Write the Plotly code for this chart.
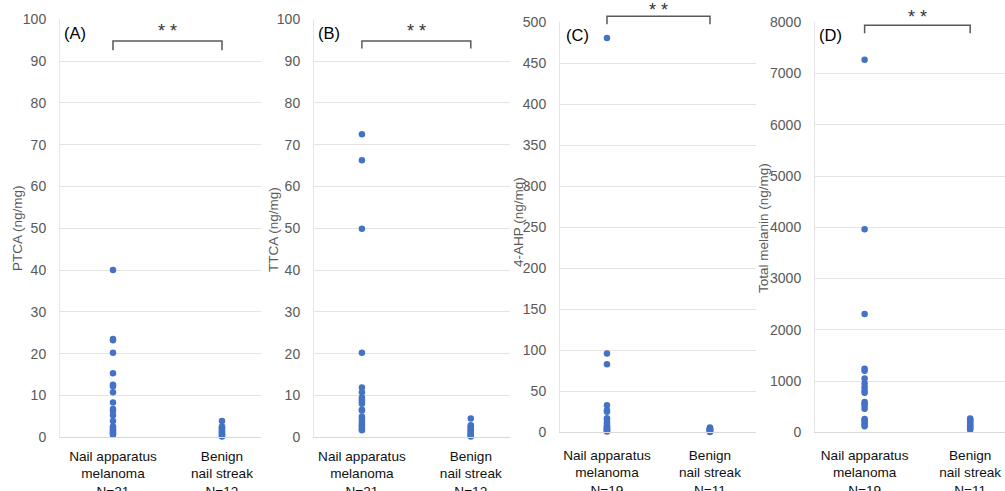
import plotly.graph_objects as go

W, H = 1005, 491

groups_21_12 = ["Nail apparatus<br>melanoma<br>N=21", "Benign<br>nail streak<br>N=12"]
groups_19_11 = ["Nail apparatus<br>melanoma<br>N=19", "Benign<br>nail streak<br>N=11"]

ptca_nam = [40, 23.5, 23.2, 20.2, 15.3, 12.6, 12.2, 10.8, 8.3, 6.8, 6.3, 5.3, 3.9,
            2.6, 2.3, 2.0, 1.7, 1.4, 1.1, 0.8, 0.6]
ptca_ben = [3.9, 2.6, 2.3, 2.1, 1.8, 1.5, 1.3, 1.0, 0.8, 0.6, 0.4, 0.2]

ttca_nam = [72.5, 66.3, 49.9, 20.2, 11.9, 10.8, 9.5, 9.0, 8.5, 8.0, 6.6, 6.4, 5.0,
            4.6, 4.0, 3.5, 3.0, 2.7, 2.3, 2.0, 1.7]
ttca_ben = [4.5, 2.9, 2.6, 2.2, 1.9, 1.6, 1.3, 1.1, 0.8, 0.6, 0.4, 0.2]

ahp_nam = [481, 96, 83, 33, 27, 25, 17, 15, 12, 10, 8, 7, 6, 5, 4, 3, 2.5, 2, 1]
ahp_ben = [6, 5, 4.5, 4, 3.5, 3, 2.5, 2, 1.5, 1, 0.5]

mel_nam = [7270, 3960, 2310, 1240, 1200, 1050, 950, 880, 810, 770, 590, 560, 520,
           460, 260, 230, 190, 150, 120]
mel_ben = [270, 250, 230, 200, 180, 150, 130, 110, 90, 70, 50]

y_titles = ["PTCA (ng/mg)", "TTCA (ng/mg)", "4-AHP (ng/mg)", "Total melanin (ng/mg)"]
panel_labels = ["(A)", "(B)", "(C)", "(D)"]
y_max = [100, 100, 500, 8000]
y_dtick = [10, 10, 50, 1000]

FONT = "Arial, Liberation Sans, sans-serif"
BLUE = "#4472C4"
GRAY = "#595959"
GRID = "#e4e4e4"

# layout geometry (pixels)
panels = [
    dict(cats=groups_21_12, a=ptca_nam, b=ptca_ben, x0=60, x1=261, xr=[-0.486, 1.358], top=19.3, bot=437.3,
         title_x=17, title_y=228, lab_x=62, lab_y=33, xstand=6,
         br=(0.948, 0.926, 0.972)),
    dict(cats=groups_21_12, a=ttca_nam, b=ttca_ben, x0=314, x1=510, xr=[-0.44, 1.36], top=19.3, bot=437.3,
         title_x=273, title_y=230, lab_x=316, lab_y=33, xstand=6,
         br=(0.948, 0.930, 0.972)),
    dict(cats=groups_19_11, a=ahp_nam, b=ahp_ben, x0=560, x1=756, xr=[-0.456, 1.447], top=22.3, bot=432.3,
         title_x=518, title_y=222, lab_x=564, lab_y=35, xstand=10,
         br=(1.0146, 0.995, 1.03)),
    dict(cats=groups_19_11, a=mel_nam, b=mel_ben, x0=815, x1=1005, xr=[-0.47, 1.33], top=22.3, bot=432.3,
         title_x=763, title_y=228, lab_x=817, lab_y=35, xstand=10,
         br=(0.9927, 0.973, 1.012)),
]

fig = go.Figure()
layout = dict(
    template="none",
    width=W, height=H, margin=dict(l=0, r=0, t=0, b=0, autoexpand=False),
    paper_bgcolor="white", plot_bgcolor="white", showlegend=False,
    font=dict(family=FONT, color=GRAY, size=14),
)
shapes = []
annotations = []

for i, p in enumerate(panels):
    n = "" if i == 0 else str(i + 1)
    xa, ya = "x" + n, "y" + n
    fig.add_trace(go.Scatter(
        x=[p["cats"][0]] * len(p["a"]) + [p["cats"][1]] * len(p["b"]),
        y=p["a"] + p["b"],
        mode="markers", marker=dict(size=6.5, color=BLUE, line=dict(width=0)),
        cliponaxis=False, xaxis=xa, yaxis=ya, hoverinfo="y",
    ))
    layout["xaxis" + n] = dict(
        domain=[p["x0"] / W, min(p["x1"] / W, 1)], anchor=ya, type="category",
        categoryorder="array", categoryarray=p["cats"], range=p["xr"],
        showgrid=False, showline=True, linecolor="#d9d9d9", linewidth=1,
        ticks="", ticklabelstandoff=p["xstand"],
        tickfont=dict(size=13.6, color="#111111"), zeroline=False,
        automargin=False, fixedrange=True,
    )
    layout["yaxis" + n] = dict(
        domain=[1 - p["bot"] / H, 1 - p["top"] / H], anchor=xa,
        range=[0, y_max[i]], dtick=y_dtick[i], tick0=0,
        showgrid=True, gridcolor=GRID, gridwidth=1,
        showline=True, linecolor="#e6e6e6", linewidth=1, zeroline=False,
        ticks="", ticklabelstandoff=10, tickfont=dict(size=14, color=GRAY),
        automargin=False, fixedrange=True,
    )
    # y-axis title as annotation
    annotations.append(dict(
        text=y_titles[i], xref="paper", yref="paper",
        x=p["title_x"] / W, y=1 - p["title_y"] / H, textangle=-90,
        showarrow=False, xanchor="center", yanchor="middle",
        font=dict(size=13.5, color=GRAY, family=FONT),
    ))
    # panel label
    annotations.append(dict(
        text=panel_labels[i], xref="paper", yref="paper",
        x=p["lab_x"] / W, y=1 - p["lab_y"] / H, showarrow=False,
        xanchor="left", yanchor="middle", font=dict(size=16.5, color="#000000", family=FONT),
    ))
    # significance bracket
    a0, a1 = p["xr"]
    fx0 = (0 - a0) / (a1 - a0)
    fx1 = (1 - a0) / (a1 - a0)
    ytop, ybot, ytxt = p["br"]
    shapes.append(dict(
        type="path", xref=xa + " domain", yref=ya + " domain",
        path=f"M {fx0},{ybot} L {fx0},{ytop} L {fx1},{ytop} L {fx1},{ybot}",
        line=dict(color=GRAY, width=1.5),
    ))
    annotations.append(dict(
        text="* *", xref=xa + " domain", yref=ya + " domain",
        x=(fx0 + fx1) / 2, y=ytxt, showarrow=False,
        xanchor="center", yanchor="middle", font=dict(size=18, color="#333333", family=FONT),
    ))

layout["shapes"] = shapes
layout["annotations"] = annotations
fig.update_layout(**layout)
fig.write_html("out.html", config={"displayModeBar": False},
               post_script="document.body.style.margin='0px';document.body.style.overflow='hidden';")
